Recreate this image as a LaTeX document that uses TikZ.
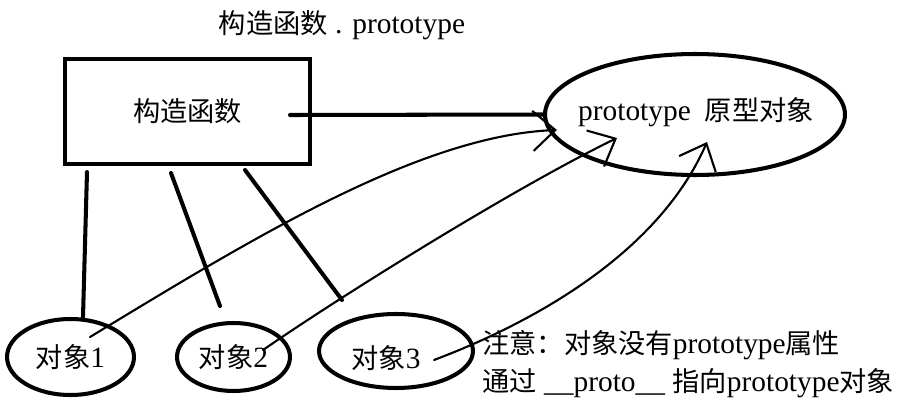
\documentclass[tikz,border=0pt]{standalone}
\usepackage{fontspec}
\setmainfont{Liberation Serif}[Scale=1.08]
\newfontfamily\cjk{Noto Sans CJK SC}
\usetikzlibrary{arrows.meta,shapes.geometric}

\begin{document}
\begin{tikzpicture}[x=0.02cm,y=-0.02cm,
		font=\fontsize{15.5}{22}\selectfont,
		heavy/.style={line width=2.3pt,line cap=round},
		objell/.style={draw,ellipse,heavy,inner sep=0pt},
		protoarrow/.style={line width=1.2pt,line cap=round,-{Straight Barb[length=0.45cm,width=0.8cm]}}]
			\useasboundingbox (0,0) rectangle (899,402);

			\node (title) at (342,25) {{\cjk 构造函数} . prototype};
			\node [draw,heavy,minimum width=4.9cm,minimum height=2.1cm] (ctor) at (187.5,111.5) {\cjk 构造函数};
			\node [objell,minimum width=6cm,minimum height=2.42cm] (proto) at (695,114.5) {};
			\node (protoname) at (696,112) {prototype\hspace{8pt}{\cjk 原型对象}};

			\node [objell,minimum width=2.54cm,minimum height=1.52cm] (obj1) at (70.5,357) {{\cjk 对象}1};
			\node [objell,minimum width=2.26cm,minimum height=1.36cm] (obj2) at (233.5,357) {{\cjk 对象}2};
			\node [objell,minimum width=3.08cm,minimum height=1.48cm] (obj3) at (396,351) {};
			\node (obj3name) at (386,358) {{\cjk 对象}3};

			\node [align=left,anchor=west,inner sep=0pt] (note) at (482,364) {{\cjk 注意：对象没有}prototype{\cjk 属性}\\{\cjk 通过} \_\_proto\_\_ {\cjk 指向}prototype{\cjk 对象}};

			% free ends of the links
			\coordinate (hstart) at (290,115);
			\coordinate (l1a) at (87,172);
			\coordinate (l2a) at (171,173);
			\coordinate (l2b) at (220,306);
			\coordinate (l3a) at (245,170);
			\coordinate (l3b) at (342,300);
			\coordinate (p1) at (90,337);
			\coordinate (p2) at (263,350);
			\coordinate (p3) at (434,360);
			\coordinate (t1) at (557,130);
			\coordinate (t2) at (617,138);
			\coordinate (t3) at (707,142);

			\draw[heavy] (hstart) -- (proto.west);
			\draw[heavy] (l1a) -- (83,317);
			\draw[heavy] (l2a) -- (l2b);
			\draw[heavy] (l3a) -- (l3b);

			\draw[protoarrow] (p1) .. controls (250,240) and (420,135) .. (t1);
			\draw[protoarrow] (p2) .. controls (350,290) and (520,185) .. (t2);
			\draw[protoarrow] (p3) .. controls (540,320) and (660,250) .. (t3);
		\end{tikzpicture}
\end{document}
